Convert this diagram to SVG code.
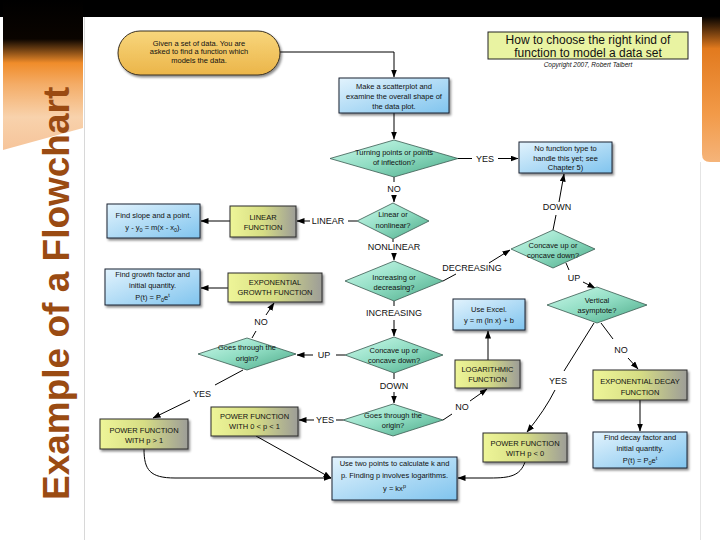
<svg xmlns="http://www.w3.org/2000/svg" width="720" height="540" viewBox="0 0 720 540">
<defs>
<linearGradient id="blueG" x1="0" y1="0" x2="1" y2="1"><stop offset="0" stop-color="#e2f3fd"/><stop offset="1" stop-color="#80c4ee"/></linearGradient>
<linearGradient id="yelG" x1="0" y1="0" x2="1" y2="0"><stop offset="0" stop-color="#eef598"/><stop offset="0.5" stop-color="#d6dd84"/><stop offset="1" stop-color="#9d9d98"/></linearGradient>
<linearGradient id="diaG" x1="0" y1="0" x2="1" y2="1"><stop offset="0" stop-color="#cdfaec"/><stop offset="0.5" stop-color="#8fdcc2"/><stop offset="1" stop-color="#4aa886"/></linearGradient>
<linearGradient id="startG" x1="0" y1="0" x2="0" y2="1"><stop offset="0" stop-color="#f8d67c"/><stop offset="1" stop-color="#ebb549"/></linearGradient>
<linearGradient id="leftG" x1="0" y1="0" x2="0" y2="1"><stop offset="0" stop-color="#000"/><stop offset="0.26" stop-color="#0a0400"/><stop offset="0.42" stop-color="#f08c2a"/><stop offset="0.56" stop-color="#f4ac66"/><stop offset="0.78" stop-color="#f8d2ac"/><stop offset="1" stop-color="#f6c49a"/></linearGradient>
<linearGradient id="rightG" x1="0" y1="0" x2="0" y2="1"><stop offset="0" stop-color="#000"/><stop offset="0.1" stop-color="#000"/><stop offset="0.3" stop-color="#e27a1e"/><stop offset="0.7" stop-color="#f29a48"/><stop offset="1" stop-color="#f5b47a"/></linearGradient>
<filter id="sh" x="-10%" y="-10%" width="130%" height="150%"><feDropShadow dx="1.5" dy="2" stdDeviation="1.2" flood-color="#000" flood-opacity="0.45"/></filter>
<marker id="arr" markerUnits="userSpaceOnUse" markerWidth="8" markerHeight="6" refX="7.5" refY="3" orient="auto"><path d="M0,0 L8,3 L0,6 z" fill="#000"/></marker>
<style>
.t{font-family:"Liberation Sans",Arial,sans-serif;font-size:7.5px;text-anchor:middle;fill:#111}
.lbl{font-family:"Liberation Sans",Arial,sans-serif;font-size:9px;text-anchor:middle;fill:#111}
.blue{fill:url(#blueG);stroke:#1c2230;stroke-width:1;filter:url(#sh)}
.yel{fill:url(#yelG);stroke:#2a2a2a;stroke-width:1;filter:url(#sh)}
.dia{fill:url(#diaG);stroke:#3a5a50;stroke-width:0.8}
.c{fill:none;stroke:#000;stroke-width:1}
.ca{fill:none;stroke:#000;stroke-width:1;marker-end:url(#arr)}
</style>
</defs>
<rect width="720" height="540" fill="#fff"/>
<rect x="0" y="0" width="720" height="17" fill="#000"/>
<polygon points="3,0 83,0 83,128 3,150" fill="url(#leftG)"/>
<path d="M702,0 H720 V162 H710 Q702,162 702,154 Z" fill="url(#rightG)"/>
<line x1="84.5" y1="17" x2="84.5" y2="540" stroke="#d8d8d8"/>
<line x1="700.5" y1="162" x2="700.5" y2="540" stroke="#e4e4e4"/>
<text transform="translate(69,500) rotate(-90)" font-family="'Liberation Sans',Arial,sans-serif" font-weight="bold" font-size="37" fill="#9a4b12">Example of a Flowchart</text>

<g id="title">
<rect x="488" y="32" width="200" height="27" fill="#e9f3a2" stroke="#222" stroke-width="1"/>
<text x="588" y="44" font-family="'Liberation Sans',Arial,sans-serif" font-size="12" text-anchor="middle" fill="#111">How to choose the right kind of</text>
<text x="588" y="56.5" font-family="'Liberation Sans',Arial,sans-serif" font-size="12" text-anchor="middle" fill="#111">function to model a data set</text>
<text x="588" y="67" font-family="'Liberation Sans',Arial,sans-serif" font-size="6.5" font-style="italic" text-anchor="middle" fill="#111">Copyright 2007, Robert Talbert</text>
</g>

<g id="connectors">
<path class="ca" d="M280,52 H394 V77"/>
<path class="ca" d="M394,113 V139"/>
<path class="c" d="M458,158.5 H472"/><text class="lbl" x="485" y="161.5">YES</text><path class="ca" d="M498,158.5 H518"/>
<path class="c" d="M394,177 V182"/><text class="lbl" x="394" y="191.5">NO</text><path class="ca" d="M394,195 V202"/>
<path class="c" d="M357,221 H348"/><text class="lbl" x="328" y="224">LINEAR</text><path class="ca" d="M310,221 H297"/>
<path class="ca" d="M230,221 H201"/>
<path class="c" d="M393,239 V242"/><text class="lbl" x="394" y="250">NONLINEAR</text><path class="ca" d="M394,253 V260"/>
<path class="c" d="M443,281 L456,274"/><text class="lbl" x="472" y="271">DECREASING</text><path class="ca" d="M489,263 L510,250"/>
<path class="c" d="M553,230 L556,215"/><text class="lbl" x="557" y="210">DOWN</text><path class="ca" d="M559,202 L564,174"/>
<path class="c" d="M566,263 L569,270"/><text class="lbl" x="574" y="281">UP</text><path class="ca" d="M583,282 L595,288"/>
<path class="c" d="M601,323 L613,339"/><text class="lbl" x="621" y="353">NO</text><path class="ca" d="M628,358 L638,369"/>
<path class="c" d="M594,323 L564,371"/><text class="lbl" x="558" y="384">YES</text><path class="ca" d="M555,390 Q545,410 527,432"/>
<path class="ca" d="M640,400 V431"/>
<path class="c" d="M394,301 V306"/><text class="lbl" x="394" y="316">INCREASING</text><path class="ca" d="M394,320 V336"/>
<path class="c" d="M345,355 H336"/><text class="lbl" x="324" y="358">UP</text><path class="ca" d="M313,355 H297"/>
<path class="c" d="M252,338 L256,331"/><text class="lbl" x="261" y="325">NO</text><path class="ca" d="M266,315 L274,303"/>
<path class="ca" d="M228,288 H201"/>
<path class="c" d="M243,370 L215,385"/><text class="lbl" x="202" y="397">YES</text><path class="ca" d="M190,400 L153,418"/>
<path class="c" d="M394,373 V379"/><text class="lbl" x="394" y="389">DOWN</text><path class="ca" d="M394,392 V403"/>
<path class="c" d="M343,420 H336"/><text class="lbl" x="325" y="423">YES</text><path class="ca" d="M314,420 H299"/>
<path class="c" d="M443,420 L452,414"/><text class="lbl" x="462" y="410">NO</text><path class="ca" d="M470,401 L487,389"/>
<path class="ca" d="M488,360 V331"/>
<path class="ca" d="M256,436 L331,478"/>
<path class="ca" d="M144,449 C144,470 150,478 175,478 L331,478"/>
<path class="ca" d="M525,462 C520,476 510,478 490,478 L458,478"/>
</g>

<g id="start">
<rect x="118" y="31" width="162" height="44" rx="22" fill="url(#startG)" stroke="#3a3020" stroke-width="1" filter="url(#sh)"/>
<text class="t" x="199" y="45.5">Given a set of data. You are</text>
<text class="t" x="199" y="54">asked to find a function which</text>
<text class="t" x="199" y="62.5">models the data.</text>
</g>
<g id="scatter">
<rect class="blue" x="339" y="78" width="110" height="35"/>
<text class="t" x="394" y="88.5">Make a scatterplot and</text>
<text class="t" x="394" y="98.5">examine the overall shape of</text>
<text class="t" x="394" y="108.5">the data plot.</text>
</g>
<g id="turning">
<polygon class="dia" points="330,158.5 394,140 458,158.5 394,177"/>
<text class="t" x="394" y="154.5">Turning points or points</text>
<text class="t" x="394" y="165">of inflection?</text>
</g>
<g id="nofunction">
<rect class="blue" x="519" y="142" width="93" height="31"/>
<text class="t" x="565.5" y="150.5">No function type to</text>
<text class="t" x="565.5" y="160.5">handle this yet; see</text>
<text class="t" x="565.5" y="170">Chapter 5)</text>
</g>
<g id="linearq">
<polygon class="dia" points="357,221 393,203 429,221 393,239"/>
<text class="t" x="393" y="216.5">Linear or</text>
<text class="t" x="393" y="227.5">nonlinear?</text>
</g>
<g id="linearfn">
<rect class="yel" x="230" y="206" width="66" height="31"/>
<text class="t" x="263" y="219.5">LINEAR</text>
<text class="t" x="263" y="229.5">FUNCTION</text>
</g>
<g id="slope">
<rect class="blue" x="107" y="204" width="93" height="34"/>
<text class="t" x="153.5" y="217.5">Find slope and a point.</text>
<text class="t" x="153.5" y="229.5">y - y<tspan font-size="5.5" dy="2">0</tspan><tspan dy="-2"> = m(x - x</tspan><tspan font-size="5.5" dy="2">0</tspan><tspan dy="-2">).</tspan></text>
</g>
<g id="incdec">
<polygon class="dia" points="345,281 394,261 443,281 394,301"/>
<text class="t" x="394" y="279.5">Increasing or</text>
<text class="t" x="394" y="289.5">decreasing?</text>
</g>
<g id="concaveright">
<polygon class="dia" points="511,249 553,230 595,249 553,268"/>
<text class="t" x="553" y="247.5">Concave up or</text>
<text class="t" x="553" y="257.5">concave down?</text>
</g>
<g id="vertical">
<polygon class="dia" points="547,305 597,287 647,305 597,323"/>
<text class="t" x="597" y="302.5">Vertical</text>
<text class="t" x="597" y="312.5">asymptote?</text>
</g>
<g id="expdecay">
<rect class="yel" x="593" y="370" width="94" height="30"/>
<text class="t" x="640" y="384">EXPONENTIAL DECAY</text>
<text class="t" x="640" y="395">FUNCTION</text>
</g>
<g id="decayfind">
<rect class="blue" x="593" y="432" width="94" height="36"/>
<text class="t" x="640" y="440">Find decay factor and</text>
<text class="t" x="640" y="451">initial quantity.</text>
<text class="t" x="640" y="463">P(t) = P<tspan font-size="5.5" dy="2">0</tspan><tspan dy="-2">e</tspan><tspan font-size="5.5" dy="-3">t</tspan></text>
</g>
<g id="excel">
<rect class="blue" x="453" y="299" width="72" height="31"/>
<text class="t" x="489" y="311.5">Use Excel.</text>
<text class="t" x="489" y="322.5">y = m (ln x) + b</text>
</g>
<g id="logfn">
<rect class="yel" x="455" y="360" width="65" height="28"/>
<text class="t" x="487.5" y="372">LOGARITHMIC</text>
<text class="t" x="487.5" y="381.5">FUNCTION</text>
</g>
<g id="concavecenter">
<polygon class="dia" points="345,355 394,337 443,355 394,373"/>
<text class="t" x="394" y="352.5">Concave up or</text>
<text class="t" x="394" y="362.5">concave down?</text>
</g>
<g id="originleft">
<polygon class="dia" points="198,354 247,338 296,354 247,370"/>
<text class="t" x="247" y="349.5">Goes through the</text>
<text class="t" x="247" y="360.5">origin?</text>
</g>
<g id="expgrowth">
<rect class="yel" x="228" y="273" width="94" height="29"/>
<text class="t" x="275" y="284.5">EXPONENTIAL</text>
<text class="t" x="275" y="294.5">GROWTH FUNCTION</text>
</g>
<g id="growthfind">
<rect class="blue" x="105" y="269" width="95" height="36"/>
<text class="t" x="152.5" y="277">Find growth factor and</text>
<text class="t" x="152.5" y="288">initial quantity.</text>
<text class="t" x="152.5" y="300">P(t) = P<tspan font-size="5.5" dy="2">0</tspan><tspan dy="-2">e</tspan><tspan font-size="5.5" dy="-3">t</tspan></text>
</g>
<g id="powergt1">
<rect class="yel" x="100" y="419" width="88" height="30"/>
<text class="t" x="144" y="432.5">POWER FUNCTION</text>
<text class="t" x="144" y="442.5">WITH p &gt; 1</text>
</g>
<g id="power01">
<rect class="yel" x="211" y="407" width="87" height="29"/>
<text class="t" x="254.5" y="418.5">POWER FUNCTION</text>
<text class="t" x="254.5" y="428.5">WITH 0 &lt; p &lt; 1</text>
</g>
<g id="origincenter">
<polygon class="dia" points="343,420 393,404 443,420 393,436"/>
<text class="t" x="393" y="417.5">Goes through the</text>
<text class="t" x="393" y="427.5">origin?</text>
</g>
<g id="twopoints">
<rect class="blue" x="332" y="457" width="125" height="43"/>
<text class="t" x="394.5" y="466">Use two points to calculate k and</text>
<text class="t" x="394.5" y="477.5">p. Finding p involves logarithms.</text>
<text class="t" x="394.5" y="491">y = kx<tspan font-size="5.5" dy="-3">p</tspan></text>
</g>
<g id="powerlt0">
<rect class="yel" x="483" y="433" width="84" height="29"/>
<text class="t" x="525" y="445.5">POWER FUNCTION</text>
<text class="t" x="525" y="455.5">WITH p &lt; 0</text>
</g>
</svg>
